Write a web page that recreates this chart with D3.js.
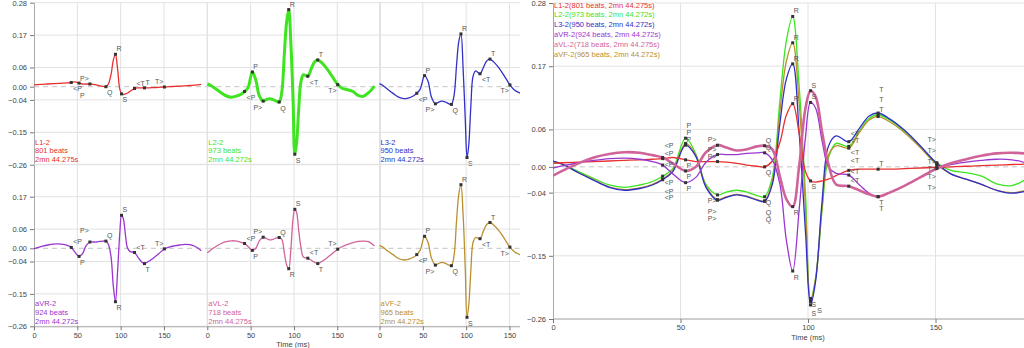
<!DOCTYPE html>
<html><head><meta charset="utf-8">
<script src="https://cdn.jsdelivr.net/npm/d3@7"></script>
<style>
body{margin:0;background:#fff}
svg{display:block;font-family:"Liberation Sans",Arial,sans-serif}
</style>
</head><body>
<svg id="c" width="1024" height="348"></svg>
<script>
// ---------------- data ----------------
const timeMs = [0,4,10,16,22,28,34,39,43,47,
  52,56,60,64.5,68,72,76,80,83,86,
  89,91.5,94,96.5,99,101,103,105.5,108,111,
  116,120,124,127.5,132,138,144,150.5,156,162,
  168,174,180,186,193];

const leadNames = ["L1-2","L2-2","L3-2","aVR-2","aVL-2","aVF-2"];
const beatCounts = [801, 973, 950, 924, 718, 965];
const durations = ["2mn 44.275s","2mn 44.272s","2mn 44.272s","2mn 44.272s","2mn 44.275s","2mn 44.272s"];

const l1Values = [0.006,0.007,0.008,0.009,0.010,0.011,0.012,0.013,0.014,0.016,
  0.012,0.009,0.009,0.009,0.008,0.006,0.003,0.001,0.000,0.010,
  0.042,0.088,0.108,0.058,-0.008,-0.024,-0.026,-0.024,-0.021,-0.015,
  -0.006,-0.004,-0.004,-0.004,-0.004,-0.003,-0.002,-0.001,0.000,0.001,
  0.002,0.003,0.004,0.005,0.008];
const l2Values = [0.009,0.004,-0.008,-0.020,-0.031,-0.035,-0.031,-0.025,-0.016,-0.003,
  0.049,0.022,-0.030,-0.048,-0.043,-0.040,-0.043,-0.049,-0.051,-0.018,
  0.114,0.215,0.257,0.140,-0.045,-0.225,-0.190,-0.075,0.015,0.040,
  0.035,0.060,0.083,0.089,0.080,0.060,0.035,0.007,-0.006,-0.010,
  -0.016,-0.029,-0.032,-0.020,0.002];
const l3Values = [0.010,0.004,-0.010,-0.023,-0.035,-0.040,-0.037,-0.031,-0.022,-0.008,
  0.037,0.018,-0.035,-0.057,-0.052,-0.048,-0.051,-0.057,-0.059,-0.030,
  0.075,0.150,0.176,0.060,-0.110,-0.236,-0.195,-0.060,0.035,0.053,
  0.043,0.065,0.087,0.092,0.082,0.062,0.036,0.006,-0.012,-0.021,
  -0.030,-0.040,-0.045,-0.041,-0.030];
const avrValues = [-0.002,0.002,0.007,0.011,0.014,0.015,0.013,0.009,0.003,-0.012,
  -0.027,-0.018,0.008,0.021,0.021,0.021,0.023,0.024,0.024,0.012,
  -0.030,-0.125,-0.178,-0.075,0.050,0.110,0.100,0.045,0.000,-0.011,
  -0.014,-0.030,-0.045,-0.051,-0.044,-0.032,-0.018,-0.002,0.004,0.008,
  0.011,0.013,0.012,0.006,-0.008];
const avlValues = [-0.015,-0.006,0.006,0.016,0.022,0.025,0.024,0.020,0.016,0.006,
  -0.007,0.000,0.025,0.037,0.033,0.028,0.030,0.035,0.036,0.030,
  -0.017,-0.055,-0.068,0.000,0.100,0.130,0.120,0.060,0.005,-0.030,
  -0.033,-0.040,-0.047,-0.051,-0.044,-0.032,-0.018,-0.003,0.006,0.013,
  0.019,0.023,0.024,0.022,0.008];
const avfValues = [0.010,0.004,-0.010,-0.022,-0.034,-0.039,-0.036,-0.030,-0.021,-0.006,
  0.040,0.020,-0.033,-0.056,-0.051,-0.047,-0.050,-0.056,-0.058,-0.025,
  0.095,0.180,0.212,0.110,-0.070,-0.230,-0.190,-0.070,0.020,0.036,
  0.032,0.058,0.080,0.086,0.077,0.058,0.033,0.004,-0.012,-0.021,
  -0.030,-0.040,-0.044,-0.040,-0.030];

const markerNames = ["<P","P","P>","Q","R","S","<T","T","T>"];
const markerTimes = [43, 52, 64.5, 83, 94, 101, 116, 127.5, 150.5];

const yTickValues = [0.28, 0.172, 0.064, 0, -0.044, -0.152, -0.26];
const xTickValues = [0, 50, 100, 150];

// ---------------- styles ----------------
const leadColors = ["#e8302f","#3de41f","#3030c8","#9b35d0","#d0649a","#b8902e"];
const valueSets = [l1Values,l2Values,l3Values,avrValues,avlValues,avfValues];
const fmt = d3.format(".2f");
const FS = 7.5;
const MFS = 7;

const series = leadNames.map((name,i)=>({name, beats:beatCounts[i], dur:durations[i], values:valueSets[i], color:leadColors[i], idx:i}));

const svg = d3.select("#c");
svg.append("rect").attr("width",1024).attr("height",348).attr("fill","#fff");

function lineGen(x,y){
  return d3.line().x((d,j)=>x(timeMs[j])).y(d=>y(d)).curve(d3.curveCatmullRom.alpha(0.5));
}

function overlaps(a,b){
  return a.x0 < b.x1 && b.x0 < a.x1 && a.y0 < b.y1 && b.y0 < a.y1;
}

function drawMarkers(dotLayer, textLayer, s, x, y, placed, yMin, yMax){
  markerNames.forEach((m,k)=>{
    const j = timeMs.indexOf(markerTimes[k]);
    const v = s.values[j];
    const mid = (s.values[j-1]+s.values[j+1])/2;
    const above = v >= mid;
    const px = x(timeMs[j]), py = y(v);
    dotLayer.append("rect").attr("x",px-1.5).attr("y",py-1.5).attr("width",3).attr("height",3).attr("fill","#333");
    const isEnd = m.endsWith(">");
    const dx = isEnd ? -1 : (m.startsWith("<") ? 2 : 1);
    const w = m.length*4.1 + 0.5;
    let ly = above ? py-3 : py+8.5;
    let lx = px+dx;
    const box = ()=>({x0: isEnd? lx-w : lx, x1: isEnd? lx : lx+w, y0: ly-5.5, y1: ly+0.5});
    let b = box(), tries = 0;
    while(placed.some(p=>overlaps(p,b)) && tries < 8){
      const nly = ly + (above ? -6 : 6);
      if(nly > yMax || nly < yMin){ lx += isEnd ? -(w+1) : (w+1); }
      else { ly = nly; }
      b = box(); tries++;
    }
    placed.push(b);
    textLayer.append("text").attr("x",lx).attr("y",ly)
      .attr("text-anchor",isEnd?"end":"start")
      .attr("font-size",MFS).attr("fill","#555").text(m);
  });
}

function styleAxis(sel){
  sel.selectAll("path.domain").attr("stroke","#aaa");
  sel.selectAll(".tick line").attr("stroke","#777");
  sel.selectAll(".tick text").attr("font-size",FS).attr("fill","#444").attr("font-family","Liberation Sans, Arial, sans-serif");
}

// ---------------- left small multiples ----------------
svg.append("clipPath").attr("id","clipL").append("rect").attr("x",0).attr("y",0).attr("width",520).attr("height",348);
const left = svg.append("g").attr("clip-path","url(#clipL)");
const colX = [34, 207.3, 379.5], panelW = 173.3, rowTop = [2.7, 164.3], rowH = 162;

series.forEach((s,i)=>{
  const col = i%3, row = Math.floor(i/3);
  const x = d3.scaleLinear().domain([0,200]).range([colX[col], colX[col]+panelW]);
  const y = d3.scaleLinear().domain([-0.26,0.28]).range([rowTop[row]+rowH, rowTop[row]]);
  const g = left.append("g");
  g.selectAll("line.h").data(yTickValues.filter(v=>v!==0)).join("line").attr("class","h")
    .attr("x1",x(0)).attr("x2",x(200)).attr("y1",d=>y(d)).attr("y2",d=>y(d)).attr("stroke","#e2e2e2");
  g.selectAll("line.v").data([50,100,150,200]).join("line").attr("class","v")
    .attr("x1",d=>x(d)).attr("x2",d=>x(d)).attr("y1",y(0.28)).attr("y2",y(-0.26)).attr("stroke","#e2e2e2");
  if(col>0) g.append("line").attr("x1",x(0)).attr("x2",x(0)).attr("y1",y(0.28)).attr("y2",y(-0.26)).attr("stroke","#e2e2e2");
  g.append("line").attr("x1",x(0)).attr("x2",x(200)).attr("y1",y(0)).attr("y2",y(0))
    .attr("stroke","#c4c4c4").attr("stroke-dasharray","5,4");
  if(col===0){
    const ax = g.append("g").attr("transform",`translate(${x(0)},0)`)
      .call(d3.axisLeft(y).tickValues(row===0?yTickValues:yTickValues.slice(1)).tickFormat(fmt).tickSize(4).tickSizeOuter(0));
    styleAxis(ax);
  }
  if(row===1){
    const ax = g.append("g").attr("transform",`translate(0,${y(-0.26)})`)
      .call(d3.axisBottom(x).tickValues(xTickValues).tickSize(4).tickSizeOuter(0).tickPadding(2));
    styleAxis(ax);
  }
  g.append("path").datum(s.values).attr("d",lineGen(x,y)).attr("fill","none")
    .attr("stroke",s.color).attr("stroke-width", i===1?3:1.3).attr("stroke-linejoin","round");
  drawMarkers(g, g, s, x, y, [], rowTop[row]+6, rowTop[row]+rowH-2);
  const lines = [s.name, `${s.beats} beats`, s.dur];
  g.selectAll("text.lab").data(lines).join("text").attr("class","lab")
    .attr("x",x(0)+1).attr("y",(d,k)=>rowTop[row]+142+k*8.7)
    .attr("font-size",FS).attr("fill",s.color).text(d=>d);
});
left.append("text").attr("x",293).attr("y",346.5).attr("text-anchor","middle")
  .attr("font-size",FS).attr("fill","#444").text("Time (ms)");

// ---------------- right overlay chart ----------------
const xR = d3.scaleLinear().domain([0,50]).range([553,680.5]);
const yR = d3.scaleLinear().domain([-0.26,0.28]).range([319,3]);
const gR = svg.append("g");
gR.selectAll("line.h").data(yTickValues.filter(v=>v!==0)).join("line").attr("class","h")
  .attr("x1",xR(0)).attr("x2",1024).attr("y1",d=>yR(d)).attr("y2",d=>yR(d)).attr("stroke","#e2e2e2");
gR.selectAll("line.v").data([50,100,150,200]).join("line").attr("class","v")
  .attr("x1",d=>xR(d)).attr("x2",d=>xR(d)).attr("y1",yR(0.28)).attr("y2",yR(-0.26)).attr("stroke","#e2e2e2");
gR.append("line").attr("x1",xR(0)).attr("x2",1024).attr("y1",yR(0)).attr("y2",yR(0))
  .attr("stroke","#c4c4c4").attr("stroke-dasharray","5,4");
const axL = gR.append("g").attr("transform",`translate(${xR(0)},0)`)
  .call(d3.axisLeft(yR).tickValues(yTickValues).tickFormat(fmt).tickSize(4).tickSizeOuter(0));
styleAxis(axL);
const axB = gR.append("g").attr("transform",`translate(0,${yR(-0.26)})`)
  .call(d3.axisBottom(xR).tickValues(xTickValues).tickSize(4).tickSizeOuter(0).tickPadding(2));
styleAxis(axB);
axB.select("path.domain").attr("d",`M${xR(0)},0H1024`);
gR.append("text").attr("x",xR(100)).attr("y",340).attr("text-anchor","middle")
  .attr("font-size",FS).attr("fill","#444").text("Time (ms)");

svg.append("clipPath").attr("id","clipR").append("rect").attr("x",553).attr("y",0).attr("width",471).attr("height",348);
const plotR = gR.append("g").attr("clip-path","url(#clipR)");
const drawOrder = [1,5,2,0,3,4];
drawOrder.forEach(i=>{
  const s = series[i];
  plotR.append("path").datum(s.values).attr("d",lineGen(xR,yR)).attr("fill","none")
    .attr("stroke",s.color).attr("stroke-width", i===4?2.6:1.3).attr("stroke-linejoin","round");
});
const dotsR = plotR.append("g"), textR = plotR.append("g");
const placedR = [];
drawOrder.forEach(i=>drawMarkers(dotsR, textR, series[i], xR, yR, placedR, 9, 316));

gR.selectAll("text.leg").data(series).join("text").attr("class","leg")
  .attr("x",554).attr("y",(d,k)=>7.5+k*9.8).attr("font-size",FS).attr("fill",d=>d.color)
  .text(d=>`${d.name}(${d.beats} beats, ${d.dur})`);
</script>
</body></html>
